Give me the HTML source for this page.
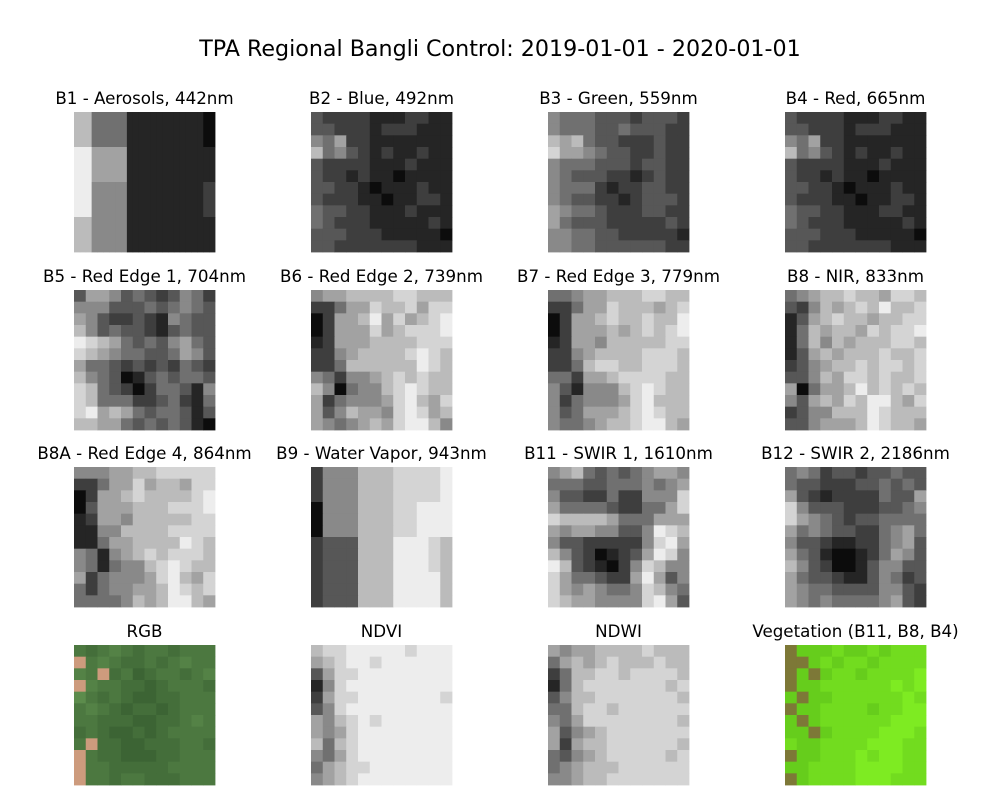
<!DOCTYPE html>
<html><head><meta charset="utf-8"><style>
html,body{margin:0;padding:0;background:#fff;}
svg{display:block;font-family:"DejaVu Sans","Liberation Sans",sans-serif;}
</style></head><body>
<svg id="fig" width="1000" height="800" viewBox="0 0 1000 800">
<text x="500" y="56" text-anchor="middle" font-size="22.2" fill="#000">TPA Regional Bangli Control: 2019-01-01 - 2020-01-01</text>
</svg>
<script>
const panelTitles = ["B1 - Aerosols, 442nm","B2 - Blue, 492nm","B3 - Green, 559nm","B4 - Red, 665nm",
"B5 - Red Edge 1, 704nm","B6 - Red Edge 2, 739nm","B7 - Red Edge 3, 779nm","B8 - NIR, 833nm",
"B8A - Red Edge 4, 864nm","B9 - Water Vapor, 943nm","B11 - SWIR 1, 1610nm","B12 - SWIR 2, 2186nm",
"RGB","NDVI","NDWI","Vegetation (B11, B8, B4)"];
const panelModes = ["g","g","g","g","g","g","g","g","g","g","g","g","rgb","g","g","veg"];
const panelGrids = [
["777444444111111111111100","999666666111111111111111","999555555111111111111122","777555555111111111111111"],
["322221112211","332221222111","546221111111","745321211211","322221112111","322121101111","332210111211","322211011221","433221112111","432221111121","333222111110","332222222111"],
["544433323332","544433433322","767433222322","866543322322","544433323322","543332212322","544421223322","543322123332","654432223322","643332222232","554433222221","554433333322"],
["322221112211","332221222111","546221111111","745321211211","322221112111","322121101111","332210111211","322211011221","433221112211","432221111121","333222111110","332222222111"],
["366534323542","555333434543","653223215433","753433213433","987643435643","876544334653","644323232432","754301343443","874320244315","874442234214","896764344313","776643434310"],
["566777788777","224668778688","026679686789","026668678889","126667777888","225677778987","224777777987","542556787877","750455789877","624555689768","635766589867","654567689975"],
["445667778877","224668777678","026678778779","026667678789","126657777788","225677778887","224788778887","442667888877","531555789877","524555689777","534666789877","544567789976"],
["456778776887","325767879778","136787767788","147677687889","147576777887","136767778778","235677878878","335768878778","604667978787","536768799768","235577798777","335666798776"],
["555667788888","224668677688","026678777789","036667778889","126657777788","115577778888","114667777987","541567878887","541455789877","624555689768","424556679878","444457679976"],
["255577788889","255577788889","255577788889","055577788999","055577788999","055577788999","233377799987","233377799987","233377799987","233377799997","233377799997","233377799997"],
["567434345665","444334445456","533224225558","644443224468","877776444666","656655335987","533222225896","753201236985","973210258755","864432269635","865654458754","876655558963"],
["454233233433","433222334343","632122224336","853332223345","865432334444","645433224564","533211224563","643100124653","753200135533","643321135423","654433335532","654544445632"],
["545654554555","t56544545655","65t453455456","t65544345554","754543344555","565434434555","554443344565","454334345555","5t4433444554","t54433344555","t55444445555","t55455444555"],
["788999998999","678998999999","368899999999","158999999999","268899999998","358999999999","657898999999","656899999999","747899999999","546899999999","467889999999","567899999999"],
["656677778777","467678777877","247788788887","147888888878","357788888887","447887888888","546888888887","635678888888","626778888887","435678888878","456777888888","556778888888"],
["b66676676777","bb6767767777","b6b677677778","b66777777878","6b6677777787","b66777767788","6b6777777888","66b677778887","766777788877","b66777878877","667777888877","b67777888777"]
];
const svg = document.getElementById('fig');
const NS = 'http://www.w3.org/2000/svg';
const colX = [74, 311, 548, 785];
const rowY = [112, 290, 467, 645];
const W = 141, H = 140;
function cellColor(mode, ch) {
  if (mode === 'rgb') {
    if (ch === 't') return 'rgb(205,155,125)';
    const v = +ch; return `rgb(${36+8*v},${70+10*v},${34+6*v})`;
  }
  if (mode === 'veg') {
    if (ch === 'b') return 'rgb(125,120,55)';
    const v = +ch; return `rgb(${30+12*v},${115+15*v},${10+3*v})`;
  }
  const g = Math.round(12 + (+ch) * 25); return `rgb(${g},${g},${g})`;
}
panelTitles.forEach((title, i) => {
  const x0 = colX[i % 4], y0 = rowY[Math.floor(i / 4)];
  const g = document.createElementNS(NS, 'g');
  
  
  const t = document.createElementNS(NS, 'text');
  t.setAttribute('x', x0 + W / 2);
  t.setAttribute('y', y0 - 8);
  t.setAttribute('text-anchor', 'middle');
  t.setAttribute('font-size', '16.7');
  t.textContent = title;
  
  
  g.appendChild(t);
  const grid = panelGrids[i];
  const nr = grid.length;
  grid.forEach((row, r) => {
    const nc = row.length;
    for (let c = 0; c < nc; c++) {
      const rect = document.createElementNS(NS, 'rect');
      const xa = x0 + W * c / nc, xb = x0 + W * (c + 1) / nc;
      const ya = y0 + H * r / nr, yb = y0 + H * (r + 1) / nr;
      rect.setAttribute('x', xa.toFixed(2));
      rect.setAttribute('y', ya.toFixed(2));
      rect.setAttribute('width', (xb - xa + 0.4).toFixed(2));
      rect.setAttribute('height', (yb - ya + 0.4).toFixed(2));
      rect.setAttribute('fill', cellColor(panelModes[i], row[c]));
      
      
      g.appendChild(rect);
    }
  });
  svg.appendChild(g);
});
</script>
</body></html>
